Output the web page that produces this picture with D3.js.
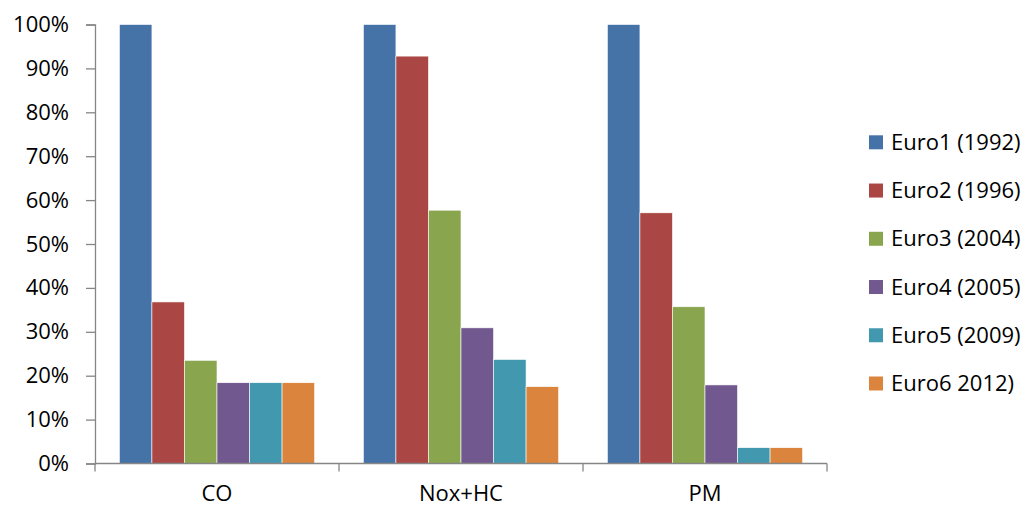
<!DOCTYPE html>
<html><head><meta charset="utf-8">
<script src="https://cdn.jsdelivr.net/npm/d3@7"></script>
<style>body{margin:0;background:#fff}svg{display:block}</style>
</head><body>
<script>
const categories = ["CO", "Nox+HC", "PM"];
const seriesNames = ["Euro1 (1992)", "Euro2 (1996)", "Euro3 (2004)", "Euro4 (2005)", "Euro5 (2009)", "Euro6 2012)"];
const euro1 = [100, 100, 100];
const euro2 = [36.8, 92.8, 57.1];
const euro3 = [23.5, 57.7, 35.7];
const euro4 = [18.4, 30.9, 17.9];
const euro5 = [18.4, 23.7, 3.6];
const euro6 = [18.4, 17.5, 3.6];
const yTicks = [0, 10, 20, 30, 40, 50, 60, 70, 80, 90, 100];
const colors = ["#4572A7", "#AA4643", "#89A54E", "#71588F", "#4198AF", "#DB843D"];

const series = [euro1, euro2, euro3, euro4, euro5, euro6];
const W = 1030, H = 508;
const mLeft = 95, mRight = 827, mTop = 24.5, mBottom = 463.5;
const font = "'Open Sans', sans-serif";
const fs = 22;

const svg = d3.select("body").append("svg").attr("width", W).attr("height", H);

const x0 = d3.scaleBand().domain(categories).range([mLeft, mRight]).paddingInner(0).paddingOuter(0);
const x1 = d3.scaleBand().domain(d3.range(series.length)).range([0, x0.bandwidth()]).paddingInner(0).paddingOuter(0.75);
const y = d3.scaleLinear().domain([0, 100]).range([mBottom, mTop]);

// bars
categories.forEach((c, ci) => {
  svg.append("g").selectAll("rect").data(series.map((s, si) => ({si, v: s[ci]}))).join("rect")
    .attr("x", d => x0(c) + x1(d.si))
    .attr("y", d => y(d.v))
    .attr("width", x1.bandwidth())
    .attr("height", d => mBottom - y(d.v))
    .attr("fill", d => colors[d.si])
    .attr("stroke", "#fff").attr("stroke-width", 0.6);
});

// y axis
const yAxis = d3.axisLeft(y).tickValues(yTicks).tickFormat(d => d + "%").tickSize(9).tickPadding(6);
const gy = svg.append("g").attr("transform", `translate(${mLeft},0)`).call(yAxis);
gy.select(".domain").attr("stroke", "#868686").attr("stroke-width", 1.3);
gy.selectAll(".tick line").attr("stroke", "#868686").attr("stroke-width", 1.3);
gy.selectAll(".tick text").attr("font-family", font).attr("font-size", fs).attr("fill", "#000").attr("dx", -11);

// x axis
const gx = svg.append("g").attr("transform", `translate(0,${mBottom})`);
gx.append("line").attr("x1", mLeft).attr("x2", mRight).attr("stroke", "#868686").attr("stroke-width", 1.3);
const bounds = categories.map(c => x0(c)).concat([mRight]);
gx.selectAll("line.tk").data(bounds).join("line").attr("class", "tk")
  .attr("x1", d => d).attr("x2", d => d).attr("y1", 0).attr("y2", 8)
  .attr("stroke", "#868686").attr("stroke-width", 1.3);
gx.selectAll("text").data(categories).join("text")
  .attr("x", d => x0(d) + x0.bandwidth() / 2).attr("y", 37.5)
  .attr("text-anchor", "middle").attr("font-family", font).attr("font-size", fs).attr("fill", "#000")
  .text(d => d);

// legend
const lg = svg.append("g");
const ly = d3.scalePoint().domain(d3.range(seriesNames.length)).range([142.3, 383.5]);
seriesNames.forEach((n, i) => {
  lg.append("rect").attr("x", 869).attr("y", ly(i) - 7).attr("width", 14).attr("height", 14).attr("fill", colors[i]);
  lg.append("text").attr("x", 891).attr("y", ly(i)).attr("dy", "0.35em")
    .attr("font-family", font).attr("font-size", fs).attr("fill", "#000").text(n);
});
</script>
</body></html>
